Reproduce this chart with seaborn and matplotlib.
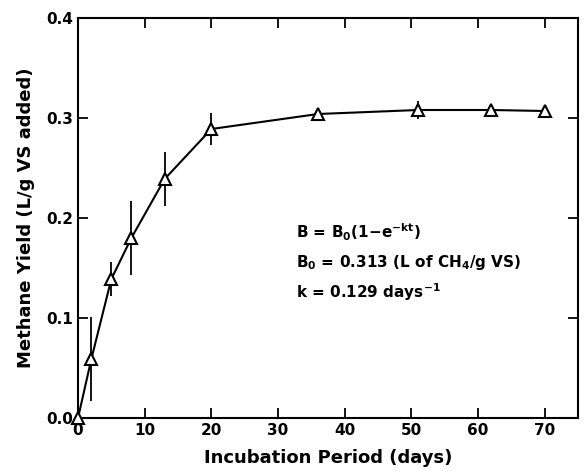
import matplotlib
matplotlib.use("Agg")
import matplotlib.pyplot as plt
import seaborn as sns
import pandas as pd

days = [0, 2, 5, 8, 13, 20, 36, 51, 62, 70]
yield_vals = [0.0, 0.059, 0.139, 0.180, 0.239, 0.289, 0.304, 0.308, 0.308, 0.307]
err_vals = [0.0, 0.042, 0.017, 0.037, 0.027, 0.016, 0.0, 0.009, 0.0, 0.0]
x_ticks = [0, 10, 20, 30, 40, 50, 60, 70]
y_ticks = [0.0, 0.1, 0.2, 0.3, 0.4]

sns.set_style("ticks")
plt.rcParams['font.family'] = ['DejaVu Sans']
plt.rcParams['mathtext.default'] = 'bf'
plt.rcParams['text.color'] = 'black'
plt.rcParams['axes.labelcolor'] = 'black'
plt.rcParams['xtick.color'] = 'black'
plt.rcParams['ytick.color'] = 'black'

df = pd.DataFrame({"day": days, "y": yield_vals, "err": err_vals})

fig = plt.figure(figsize=(5.87, 4.76), dpi=100)
ax = fig.add_axes([0.1329, 0.1218, 0.8518, 0.8404])

ax.errorbar(df["day"], df["y"], yerr=df["err"], fmt="none", ecolor="black",
            elinewidth=1.3, capsize=0, zorder=2)
sns.lineplot(data=df, x="day", y="y", ax=ax, color="black", linewidth=1.5,
             marker="^", markersize=9, markerfacecolor="white",
             markeredgecolor="black", markeredgewidth=1.5, zorder=3,
             clip_on=False)

ax.set_xlim(0, 75)
ax.set_ylim(0, 0.4)
ax.set_xticks(x_ticks)
ax.set_yticks(y_ticks)
ax.set_xticklabels([str(t) for t in x_ticks], fontsize=11, fontweight="bold")
ax.set_yticklabels([f"{t:.1f}" for t in y_ticks], fontsize=11, fontweight="bold")
ax.tick_params(direction="in", top=True, right=True, length=7, width=1.3,
               labelright=False, labeltop=False)
for s in ax.spines.values():
    s.set_linewidth(1.5)
    s.set_color("black")

ax.set_xlabel("Incubation Period (days)", fontsize=13, fontweight="bold", labelpad=8)
ax.set_ylabel("Methane Yield (L/g VS added)", fontsize=13, fontweight="bold", labelpad=8)

ax.text(0.436, 0.465, r"B = B$_0$(1$-$e$^{-kt}$)", transform=ax.transAxes,
        fontsize=11, fontweight="bold", va="center")
ax.text(0.436, 0.39, r"B$_0$ = 0.313 (L of CH$_4$/g VS)", transform=ax.transAxes,
        fontsize=11, fontweight="bold", va="center")
ax.text(0.436, 0.315, r"k = 0.129 days$^{-1}$", transform=ax.transAxes,
        fontsize=11, fontweight="bold", va="center")

fig.savefig("out.png", dpi=100)
